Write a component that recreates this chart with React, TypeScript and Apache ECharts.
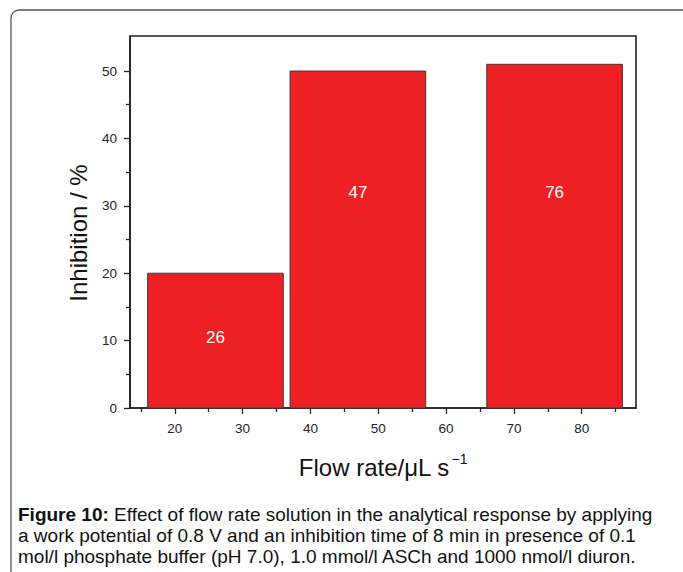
import React, { useEffect, useRef } from "react";
import * as echarts from "echarts";

// Flow rate (µL s⁻¹) at the centre of each bar, and the inhibition reached
const flowRates = [26, 47, 76];
const inhibition = [20, 50, 51];
// Height (in % units) at which each bar's flow-rate label sits
const labelHeights = [10.5, 32, 32];
const barSpan = 20;

const xMajorTicks = [20, 30, 40, 50, 60, 70, 80];
const xMinorTicks = [15, 25, 35, 45, 55, 65, 75, 85];
const yMajorTicks = [0, 10, 20, 30, 40, 50];
const yMinorTicks = [5, 15, 25, 35, 45];

const captionLines = [
  "Effect of flow rate solution in the analytical response by applying",
  "a work potential of 0.8 V and an inhibition time of 8 min in presence of 0.1",
  "mol/l phosphate buffer (pH 7.0), 1.0 mmol/l ASCh and 1000 nmol/l diuron.",
];

const FONT = "Liberation Sans, Arial, sans-serif";
const X_MIN = 13.4;
const X_MAX = 88;
const Y_MAX = 55.2;

export default function App() {
  const ref = useRef<HTMLDivElement>(null);

  useEffect(() => {
    if (!ref.current) return;
    const chart = echarts.init(ref.current, null, { renderer: "svg" });

    const barData = flowRates.map((c, i) => [
      c - barSpan / 2,
      c + barSpan / 2,
      inhibition[i],
      labelHeights[i],
      c,
    ]);

    const axisLineStyle = { color: "#222", width: 1.6 };
    const tickStyle = { color: "#222", width: 1.3 };
    const labelStyle = { fontFamily: FONT, fontSize: 13.5, color: "#222" };

    chart.setOption({
      animation: false,
      backgroundColor: "#fff",
      grid: {
        left: 130,
        right: 47,
        top: 36,
        bottom: 164,
        show: true,
        borderColor: "#222",
        borderWidth: 1.6,
        backgroundColor: "transparent",
      },
      xAxis: [
        {
          type: "value",
          min: X_MIN,
          max: X_MAX,
          name: "Flow rate/\u03bcL s{sup|\u22121}",
          nameLocation: "middle",
          nameGap: 44,
          nameTextStyle: {
            fontFamily: FONT,
            fontSize: 24,
            color: "#111",
            rich: {
              sup: { fontFamily: FONT, fontSize: 14, color: "#111", verticalAlign: "top", padding: [0, 0, 16, 2] },
            },
          },
          axisLine: { show: true, onZero: false, lineStyle: axisLineStyle },
          axisTick: { show: true, length: 6, lineStyle: tickStyle, customValues: xMajorTicks },
          axisLabel: { show: true, customValues: xMajorTicks, ...labelStyle, margin: 13 },
          splitLine: { show: false },
        },
        {
          type: "value",
          position: "bottom",
          min: X_MIN,
          max: X_MAX,
          axisLine: { show: false },
          axisTick: { show: true, length: 4, lineStyle: tickStyle, customValues: xMinorTicks },
          axisLabel: { show: false },
          splitLine: { show: false },
        },
      ],
      yAxis: [
        {
          type: "value",
          min: 0,
          max: Y_MAX,
          name: "Inhibition / %",
          nameLocation: "middle",
          nameGap: 40,
          nameTextStyle: { fontFamily: FONT, fontSize: 24, color: "#111", padding: [0, 22, 0, 0] },
          axisLine: { show: true, lineStyle: axisLineStyle },
          axisTick: { show: true, length: 6, lineStyle: tickStyle, customValues: yMajorTicks },
          axisLabel: { customValues: yMajorTicks, ...labelStyle, margin: 13 },
          splitLine: { show: false },
        },
        {
          type: "value",
          position: "left",
          min: 0,
          max: Y_MAX,
          axisLine: { show: false },
          axisTick: { show: true, length: 4, lineStyle: tickStyle, customValues: yMinorTicks },
          axisLabel: { show: false },
          splitLine: { show: false },
        },
      ],
      series: [
        {
          type: "custom",
          xAxisIndex: 0,
          yAxisIndex: 0,
          data: barData,
          renderItem: (_params: any, api: any) => {
            const x0 = api.value(0);
            const x1 = api.value(1);
            const v = api.value(2);
            const ly = api.value(3);
            const topLeft = api.coord([x0, v]);
            const bottomRight = api.coord([x1, 0]);
            const labelPos = api.coord([(x0 + x1) / 2, ly]);
            return {
              type: "group",
              children: [
                {
                  type: "rect",
                  shape: {
                    x: topLeft[0],
                    y: topLeft[1],
                    width: bottomRight[0] - topLeft[0],
                    height: bottomRight[1] - topLeft[1],
                  },
                  style: { fill: "#ED2024", stroke: "#3a3a3a", lineWidth: 1 },
                },
                {
                  type: "text",
                  x: labelPos[0],
                  y: labelPos[1],
                  style: {
                    text: String(api.value(4)),
                    fill: "#fff",
                    font: `17px ${FONT}`,
                    align: "center",
                    verticalAlign: "middle",
                  },
                },
              ],
            };
          },
        },
      ],
      graphic: [
        {
          type: "rect",
          shape: { x: 11, y: 10, width: 720, height: 620, r: [8, 0, 0, 0] },
          style: { fill: "none", stroke: "#555", lineWidth: 1.3 },
          silent: true,
        },
        {
          type: "text",
          left: 18,
          top: 504,
          style: {
            text: `{b|Figure 10:} ${captionLines[0]}\n${captionLines[1]}\n${captionLines[2]}`,
            font: `19px ${FONT}`,
            fill: "#111",
            lineHeight: 21,
            rich: {
              b: { fontFamily: FONT, fontSize: 19, fontWeight: "bold", fill: "#111", lineHeight: 21 },
            },
          },
        },
      ],
    });

    return () => chart.dispose();
  }, []);

  return (
    <div
      ref={ref}
      style={{ position: "fixed", left: 0, top: 0, width: 683, height: 572, background: "#fff" }}
    />
  );
}
